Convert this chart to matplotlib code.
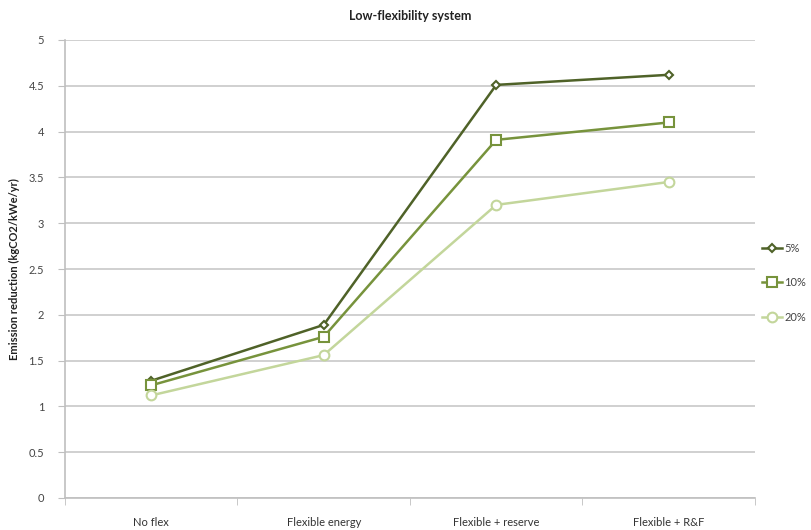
import matplotlib
matplotlib.use("Agg")
import matplotlib.pyplot as plt
from matplotlib.ticker import MultipleLocator, FixedLocator

plt.rcParams['font.family'] = ['Lato', 'DejaVu Sans']

categories = ["No flex", "Flexible energy", "Flexible + reserve", "Flexible + R&F"]
series_names = ["5%", "10%", "20%"]
values_5 = [1.28, 1.89, 4.51, 4.62]
values_10 = [1.23, 1.76, 3.91, 4.10]
values_20 = [1.12, 1.56, 3.20, 3.45]

colors = ["#4f6228", "#77933c", "#c3d69b"]
markers = ["D", "s", "o"]
msizes = [4, 7, 7]

fig = plt.figure(figsize=(8.12, 5.30), dpi=100)
ax = fig.add_axes([65 / 812, 32 / 530, 690 / 812, 458 / 530])

x = list(range(len(categories)))
for vals, name, c, m, ms in zip([values_5, values_10, values_20], series_names,
                                colors, markers, msizes):
    ax.plot(x, vals, color=c, lw=1.8, marker=m, ms=ms, mfc="white",
            mec=c, mew=1.5, label=name, zorder=3)

ax.set_xlim(-0.5, 3.5)
ax.set_ylim(0, 5)
ax.yaxis.set_major_locator(MultipleLocator(0.5))
ax.yaxis.set_major_formatter(matplotlib.ticker.FuncFormatter(lambda v, p: f"{v:g}"))
ax.set_xticks(x)
ax.set_xticklabels(categories)
ax.xaxis.set_minor_locator(FixedLocator([-0.5, 0.5, 1.5, 2.5, 3.5]))
ax.tick_params(axis="x", which="major", length=0, pad=14, labelsize=8, labelcolor="#333333")
ax.tick_params(axis="x", which="minor", length=5, color="#bfbfbf", direction="out")
ax.tick_params(axis="y", length=5, color="#bfbfbf", direction="out", labelsize=8,
               labelcolor="#444444", pad=10)

ax.grid(axis="y", color="#c8c8c8", lw=1.2)
ax.set_axisbelow(True)
for s in ["top", "right"]:
    ax.spines[s].set_visible(False)
for s in ["left", "bottom"]:
    ax.spines[s].set_color("#bfbfbf")
    ax.spines[s].set_linewidth(1.2)

ax.set_ylabel("Emission reduction (kgCO2/kWe/yr)", fontsize=8, fontweight="bold",
              color="#222222", labelpad=6)
fig.suptitle("Low-flexibility system", fontsize=9, fontweight="bold", color="#222222",
             x=410 / 812, y=1 - 16 / 530, va="center")

leg = fig.legend(loc="upper left", bbox_to_anchor=(762 / 812, 1 - 243 / 530),
                 frameon=False, fontsize=8, handlelength=1.8, handletextpad=0.2,
                 labelspacing=2.1, borderpad=0, borderaxespad=0)
for t in leg.get_texts():
    t.set_color("#444444")

fig.savefig("out.png", dpi=100)
